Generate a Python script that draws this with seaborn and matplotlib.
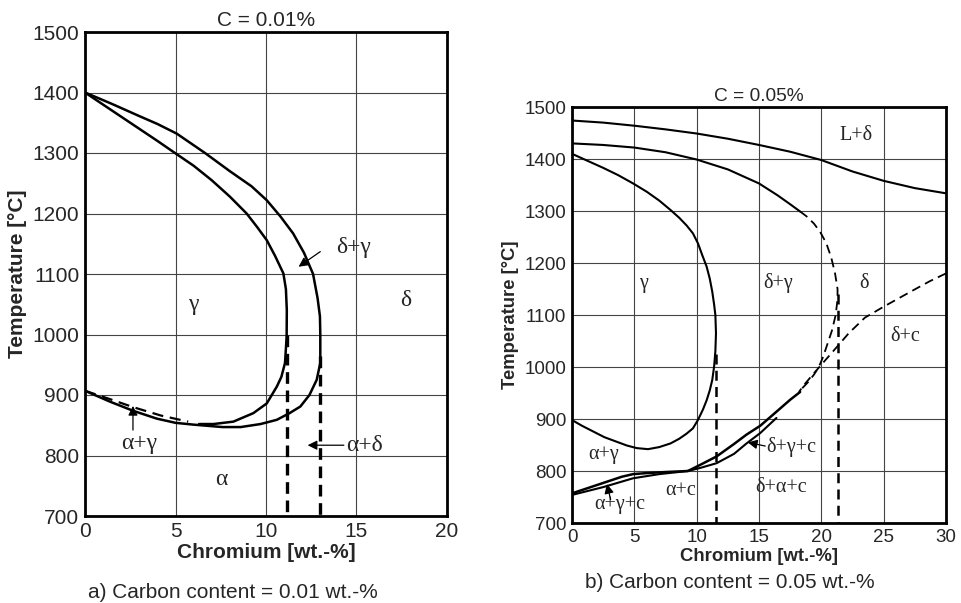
import matplotlib
matplotlib.use("Agg")
import matplotlib.pyplot as plt
import seaborn as sns

# ---- panel a) C = 0.01 % ----
a_inner_x = [0, 1, 2, 3, 4, 4.97, 6, 7, 8, 8.93, 9.5, 10.04, 10.5, 10.96, 11.1, 11.15,
             11.14, 11.05, 10.85, 10.6, 10.04, 9.3, 8.2, 7.1, 6.3]
a_inner_t = [1400, 1380, 1360, 1340, 1320, 1300, 1279, 1255, 1228, 1200, 1178, 1156, 1130, 1101, 1075, 1040,
             996, 953, 930, 914, 886, 870, 856, 852, 852]

a_outer_x = [0, 1.5, 3, 4, 5.07, 6.63, 8, 9.2, 10.04, 10.8, 11.5, 12.1, 12.6, 12.85, 12.98, 13.0,
             13.0, 12.8, 12.4, 11.9, 11.3, 10.6, 9.7, 8.6, 7.6, 6.0, 5.0, 3.96, 2.65, 1.38, 0]
a_outer_t = [1400, 1381, 1361, 1348, 1332, 1300, 1270, 1245, 1222, 1195, 1167, 1135, 1100, 1060, 1030, 1000,
             953, 925, 900, 881, 870, 859, 852, 847, 847, 851, 854, 861, 874, 889, 907]

a_dash_x = [0, 1.3, 2.65, 4.2, 5.7]
a_dash_t = [907, 894, 880, 866, 856]

a_vert_x = [11.15, 13.0]
a_vert_top = [1000, 965]

a_labels = ["γ", "δ", "α"]
a_label_x = [6.0, 17.7, 7.55]
a_label_t = [1049, 1057, 760]

# ---- panel b) C = 0.05 % ----
b_top_x = [0, 2.5, 5, 7.5, 10, 12.5, 15, 17.5, 20, 22.5, 25, 27.5, 30]
b_top_t = [1474, 1470, 1464, 1457, 1449, 1439, 1427, 1414, 1398, 1376, 1358, 1344, 1334]

b_mid_x = [0, 2.5, 5, 7.5, 10, 12.5, 15, 16.5, 17.5, 18.3]
b_mid_t = [1430, 1427, 1422, 1413, 1399, 1380, 1353, 1330, 1313, 1299]

b_mid_dash_x = [18.3, 18.8, 19.4, 19.9, 20.4, 20.8, 21.1, 21.3, 21.3, 21.15, 20.85, 20.5, 20.15,
                19.8, 19.4, 18.9, 18.3]
b_mid_dash_t = [1299, 1290, 1276, 1260, 1238, 1210, 1180, 1150, 1130, 1100, 1070, 1045, 1020,
                1000, 985, 970, 955]

b_loop_x = [0, 1.2, 2.5, 3.7, 4.9, 6.0, 7.0, 7.9, 8.6, 9.2, 9.7, 10.1, 10.45, 10.8, 11.05, 11.25,
            11.4, 11.5, 11.55, 11.5, 11.4, 11.25, 11.05, 10.8, 10.5, 10.1, 9.7, 9.2, 8.6, 7.9,
            7.0, 6.1, 5.2, 4.4, 3.5, 2.6, 1.7, 0.8, 0]
b_loop_t = [1410, 1397, 1383, 1369, 1353, 1337, 1320, 1302, 1287, 1272, 1257, 1238, 1215, 1193, 1170, 1145,
            1120, 1100, 1065, 1030, 1001, 975, 955, 936, 918, 898, 882, 872, 862, 853,
            846, 842, 844, 849, 857, 865, 876, 887, 898]

b_solvus_x = [30, 28.7, 27.4, 26.2, 25, 23.5, 22.2, 21.3, 20.5, 19.95, 19.3, 18.7, 18.2]
b_solvus_t = [1180, 1165, 1148, 1132, 1116, 1095, 1065, 1040, 1018, 1003, 985, 968, 952]

b_upper_x = [9.3, 10.3, 11.6, 13, 14, 15.1, 16.4, 17.5, 18.3]
b_upper_t = [800, 812, 828, 852, 870, 887, 914, 937, 952]

b_lower_x = [9.3, 10.3, 11.6, 13, 14, 15.1, 16.4]
b_lower_t = [800, 806, 815, 833, 853, 873, 902]

b_lens_up_x = [0, 1, 2.5, 4, 4.9, 6, 7.5, 9.3]
b_lens_up_t = [757, 765, 777, 789, 794, 796, 798, 800]

b_lens_lo_x = [0, 2.5, 4.9, 7, 9.3]
b_lens_lo_t = [754, 769, 786, 794, 800]

b_vert_x = [11.55, 21.3]
b_vert_top = [1025, 1140]

b_labels = ["L+δ", "γ", "δ+γ", "δ", "δ+c", "α+γ", "α+c", "δ+α+c"]
b_label_x = [22.8, 5.7, 16.5, 23.4, 26.7, 2.5, 8.7, 16.8]
b_label_t = [1446, 1161, 1161, 1161, 1058, 831, 763, 769]

temps = [700, 800, 900, 1000, 1100, 1200, 1300, 1400, 1500]

sns.set_style("white")
plt.rcParams["font.family"] = ["Liberation Sans", "DejaVu Sans"]

fig = plt.figure(figsize=(9.61, 6.03), dpi=100)
ax1 = fig.add_axes([85 / 961, 1 - 516 / 603, 362 / 961, 484 / 603])
ax2 = fig.add_axes([572 / 961, 1 - 523 / 603, 374 / 961, 416 / 603])

serif = ["Liberation Serif", "DejaVu Serif"]


def curve(ax, x, t, lw=1.6, ls="-"):
    sns.lineplot(x=x, y=t, ax=ax, sort=False, estimator=None,
                 color="black", linewidth=lw, linestyle=ls)


def arrow(ax, tail, head):
    ax.annotate("", xy=head, xytext=tail,
                arrowprops=dict(arrowstyle="-|>", color="black", lw=0.9,
                                mutation_scale=14, shrinkA=0, shrinkB=0))


def frame(ax, xmax, tick_size, label_size):
    ax.set_xlim(0, xmax)
    ax.set_ylim(700, 1500)
    ax.set_xticks(range(0, xmax + 1, 5))
    ax.set_yticks(temps)
    ax.grid(True, color="#444444", linewidth=0.8)
    ax.set_axisbelow(True)
    for s in ax.spines.values():
        s.set_color("black")
        s.set_linewidth(2)
    ax.tick_params(length=0, labelsize=tick_size, pad=4)
    ax.set_xlabel("Chromium [wt.-%]", fontsize=label_size, fontweight="bold", labelpad=2)
    ax.set_ylabel("Temperature [°C]", fontsize=label_size, fontweight="bold", labelpad=4)


# panel a
frame(ax1, 20, 15, 15)
curve(ax1, a_inner_x, a_inner_t, lw=1.8)
curve(ax1, a_outer_x, a_outer_t, lw=1.8)
curve(ax1, a_dash_x, a_dash_t, lw=1.6, ls=(0, (5, 3)))
for x, top in zip(a_vert_x, a_vert_top):
    curve(ax1, [x, x], [top, 700], lw=2.4, ls=(0, (3.5, 2)))
for s, x, t in zip(a_labels, a_label_x, a_label_t):
    ax1.text(x, t, s, family=serif, fontsize=17, ha="center", va="center")
ax1.text(3.0, 820, "α+γ", family=serif, fontsize=17, ha="center", va="center")
arrow(ax1, (2.65, 842), (2.65, 882))
ax1.text(13.9, 1143, "δ+γ", family=serif, fontsize=17, ha="left", va="center")
arrow(ax1, (13.0, 1137), (11.8, 1112))
ax1.text(14.4, 817, "α+δ", family=serif, fontsize=17, ha="left", va="center")
arrow(ax1, (14.3, 817), (12.3, 817))
ax1.set_title("C = 0.01%", fontsize=15, pad=4)

# panel b
frame(ax2, 30, 13.5, 13.3)
curve(ax2, b_top_x, b_top_t, lw=1.5)
curve(ax2, b_mid_x, b_mid_t, lw=1.5)
curve(ax2, b_mid_dash_x, b_mid_dash_t, lw=1.3, ls=(0, (5, 3)))
curve(ax2, b_loop_x, b_loop_t, lw=1.5)
curve(ax2, b_solvus_x, b_solvus_t, lw=1.3, ls=(0, (5, 3)))
curve(ax2, b_upper_x, b_upper_t, lw=1.8)
curve(ax2, b_lower_x, b_lower_t, lw=1.5)
curve(ax2, b_lens_up_x, b_lens_up_t, lw=1.8)
curve(ax2, b_lens_lo_x, b_lens_lo_t, lw=1.5)
for x, top in zip(b_vert_x, b_vert_top):
    curve(ax2, [x, x], [top, 700], lw=1.8, ls=(0, (4, 2.5)))
for s, x, t in zip(b_labels, b_label_x, b_label_t):
    ax2.text(x, t, s, family=serif, fontsize=14.5, ha="center", va="center")
ax2.text(3.85, 735, "α+γ+c", family=serif, fontsize=14.5, ha="center", va="center")
arrow(ax2, (3.1, 745), (2.8, 775))
ax2.text(15.6, 846, "δ+γ+c", family=serif, fontsize=14.5, ha="left", va="center")
arrow(ax2, (15.5, 848), (14.1, 855))
ax2.set_title("C = 0.05%", fontsize=13.8, pad=4)

fig.text(233 / 961, 1 - 592 / 603, "a) Carbon content = 0.01 wt.-%",
         fontsize=15, ha="center", va="center")
fig.text(730 / 961, 1 - 583 / 603, "b) Carbon content = 0.05 wt.-%",
         fontsize=15, ha="center", va="center")

fig.savefig("out.png", dpi=100)
plt.close(fig)
